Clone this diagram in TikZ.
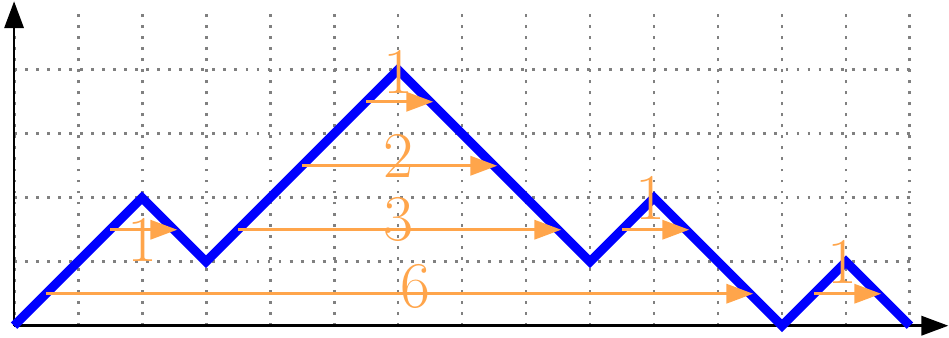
\documentclass[tikz,border=0pt]{standalone}
\usetikzlibrary{arrows.meta}
\definecolor{myorange}{RGB}{255,165,75}
\begin{document}
\begin{tikzpicture}[x=1cm,y=1cm,
  gridline/.style={gray, line width=1.3pt, dash pattern=on 1.3pt off 3.6pt},
  axisline/.style={black, line width=1.2pt, -{Triangle[length=0.42cm,width=0.3cm]}},
  pathline/.style={blue, line width=4pt, line join=miter},
  spanarrow/.style={myorange, line width=1.3pt, -{Triangle[length=0.42cm,width=0.3cm]}},
  lab/.style={myorange, inner sep=0pt, font=\fontsize{29}{34}\selectfont}]
\useasboundingbox (-0.22,-0.19) rectangle (14.61,5.09);
\draw[gridline] (0,0) grid (14,4.95);
\draw[axisline] (0,0) -- (0,5.07);
\draw[axisline] (0,0) -- (14.6,0);
\draw[pathline] (0,0) -- (2,2) -- (3,1) -- (6,4) -- (9,1) -- (10,2) -- (12,0) -- (13,1) -- (14,0);
\coordinate (a1s) at (0.5,0.5);  \coordinate (a1e) at (11.55,0.5);
\coordinate (a2s) at (3.5,1.5);  \coordinate (a2e) at (8.55,1.5);
\coordinate (a3s) at (4.5,2.5);  \coordinate (a3e) at (7.55,2.5);
\coordinate (a4s) at (5.5,3.5);  \coordinate (a4e) at (6.55,3.5);
\coordinate (a5s) at (1.5,1.5);  \coordinate (a5e) at (2.55,1.5);
\coordinate (a6s) at (9.5,1.5);  \coordinate (a6e) at (10.55,1.5);
\coordinate (a7s) at (12.5,0.5); \coordinate (a7e) at (13.55,0.5);
\foreach \i in {1,...,7} \draw[spanarrow] (a\i s) -- (a\i e);
\node[lab] (l6) at (6.27,0.61) {6};
\node[lab] (l3) at (6,1.66) {3};
\node[lab] (l2) at (6,2.66) {2};
\node[lab] (l1a) at (6,3.97) {1};
\node[lab] (l1b) at (2,1.34) {1};
\node[lab] (l1c) at (9.95,2.0) {1};
\node[lab] (l1d) at (12.95,1.0) {1};
\end{tikzpicture}
\end{document}
